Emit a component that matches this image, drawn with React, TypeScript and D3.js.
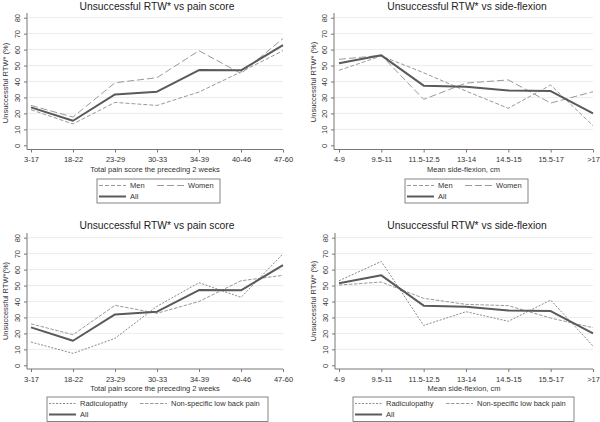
import React, { useRef, useEffect } from "react";
import * as d3 from "d3";

// categories
const painCats = ["3-17", "18-22", "23-29", "30-33", "34-39", "40-46", "47-60"];
const flexCats = ["4-9", "9.5-11", "11.5-12.5", "13-14", "14.5-15", "15.5-17", ">17"];
const yTicks = [0, 10, 20, 30, 40, 50, 60, 70, 80];

// pain score series
const painMen = [22.3, 13.4, 26.9, 25, 33.4, 46, 59.3];
const painWomen = [25, 17.7, 39.2, 42.4, 59.3, 45, 67];
const painAll = [23.8, 15.4, 31.9, 33.6, 47.2, 47, 62.8];
const painRadic = [14.6, 7.5, 16.9, 37, 51.8, 42.6, 69.9];
const painNonSpec = [26, 19.2, 37.6, 32.6, 40, 53, 56.4];

// side-flexion series
const flexMen = [47, 56, 45.5, 34, 23.2, 37.8, 12.3];
const flexWomen = [53.9, 56.4, 28.8, 39, 41, 26.5, 33.6];
const flexAll = [51.4, 56.4, 37.4, 36.7, 34.4, 34, 20];
const flexRadic = [53, 65.1, 25, 33.6, 27.6, 40.9, 12.1];
const flexNonSpec = [50.3, 52.2, 42, 38.2, 37.4, 29.6, 23.6];

const FONT = "'Liberation Sans', Arial, sans-serif";
const TEXT = "#333";
const AXIS = "#777";
const SMALL = 7.5;

type Series = { name: string; values: number[]; dash: string | null; color: string; width: number };

const Panel = ({ x0, y0, yTitle, yTitleAt, title, titleAt, xTitle, xTitleY, tickY, cats, series, legend }) => {
  const ref = useRef<SVGGElement>(null);

  useEffect(() => {
    const g = d3.select(ref.current);
    g.selectAll("*").remove();

    const x = d3.scalePoint().domain(cats).range([x0.first, x0.last]);
    const y = d3.scaleLinear().domain([0, 80]).range([y0.zero, y0.top]);

    // grid
    g.append("g")
      .selectAll("line")
      .data(yTicks.slice(1))
      .join("line")
      .attr("x1", x0.axis + 1)
      .attr("x2", x0.last)
      .attr("y1", (d) => y(d))
      .attr("y2", (d) => y(d))
      .attr("stroke", "#ececec")
      .attr("stroke-width", 1);

    // y axis
    const ya = g
      .append("g")
      .attr("transform", `translate(${x0.axis},0)`)
      .call(d3.axisLeft(y).tickValues(yTicks).tickSize(3).tickSizeOuter(0).tickPadding(0));
    ya.select(".domain").attr("d", `M0,${y0.axisTop}V${y0.axisBottom}`).attr("stroke", AXIS);
    ya.selectAll(".tick line").attr("stroke", AXIS);
    ya.selectAll(".tick text")
      .attr("x", null)
      .attr("dy", null)
      .attr("text-anchor", "middle")
      .attr("transform", "translate(-7,0) rotate(-90)")
      .attr("y", 0)
      .attr("font-family", FONT)
      .attr("font-size", SMALL)
      .attr("fill", TEXT);

    // x axis
    const xa = g
      .append("g")
      .attr("transform", `translate(0,${y0.axisBottom})`)
      .call(d3.axisBottom(x).tickSize(3).tickSizeOuter(0));
    xa.select(".domain").attr("d", `M${x0.axis},0H${x0.last}`).attr("stroke", AXIS);
    xa.selectAll(".tick line").attr("stroke", AXIS);
    xa.selectAll(".tick text")
      .attr("y", tickY - y0.axisBottom)
      .attr("dy", null)
      .attr("font-family", FONT)
      .attr("font-size", SMALL)
      .attr("fill", TEXT);

    // lines
    const line = d3
      .line<number>()
      .x((_, i) => x(cats[i]))
      .y((d) => y(d));
    series.forEach((s: Series) => {
      g.append("path")
        .datum(s.values)
        .attr("fill", "none")
        .attr("stroke", s.color)
        .attr("stroke-width", s.width)
        .attr("stroke-dasharray", s.dash)
        .attr("stroke-linejoin", "round")
        .attr("d", line);
    });

    // texts
    g.append("text")
      .attr("x", titleAt[0])
      .attr("y", titleAt[1])
      .attr("text-anchor", "middle")
      .attr("font-family", FONT)
      .attr("font-size", 10.3)
      .attr("fill", "#222")
      .text(title);
    g.append("text")
      .attr("transform", `translate(${yTitleAt[0]},${yTitleAt[1]}) rotate(-90)`)
      .attr("text-anchor", "middle")
      .attr("font-family", FONT)
      .attr("font-size", SMALL)
      .attr("fill", TEXT)
      .text(yTitle);
    g.append("text")
      .attr("x", (x0.axis + x0.last) / 2)
      .attr("y", xTitleY)
      .attr("text-anchor", "middle")
      .attr("font-family", FONT)
      .attr("font-size", SMALL)
      .attr("fill", TEXT)
      .text(xTitle);

    // legend
    const lg = g.append("g");
    lg.append("rect")
      .attr("x", legend.x)
      .attr("y", legend.y)
      .attr("width", legend.w)
      .attr("height", legend.h)
      .attr("fill", "white")
      .attr("stroke", "#666")
      .attr("stroke-width", 0.8);
    legend.items.forEach((it, i) => {
      const s: Series = series[i];
      const ly = legend.y + (it.row === 0 ? 6.5 : 17.5);
      lg.append("line")
        .attr("x1", it.lx)
        .attr("x2", it.lx + 27)
        .attr("y1", ly)
        .attr("y2", ly)
        .attr("stroke", s.color)
        .attr("stroke-width", s.width)
        .attr("stroke-dasharray", s.dash);
      lg.append("text")
        .attr("x", it.lx + 31)
        .attr("y", ly + 2.7)
        .attr("font-family", FONT)
        .attr("font-size", SMALL)
        .attr("fill", TEXT)
        .text(s.name);
    });
  }, []);

  return <g ref={ref} />;
};

const mk = (name: string, values: number[], kind: string): Series => {
  if (kind === "all") return { name, values, dash: null, color: "#5a5a5a", width: 2 };
  if (kind === "men") return { name, values, dash: "4,2", color: "#9a9a9a", width: 1 };
  if (kind === "women") return { name, values, dash: "7,3", color: "#9a9a9a", width: 1 };
  if (kind === "radic") return { name, values, dash: "2,1.5", color: "#8a8a8a", width: 1 };
  return { name, values, dash: "3.5,1.5", color: "#9a9a9a", width: 1 };
};

const App = () => {
  const top = { zero: 145.3, top: 17.7, axisTop: 13, axisBottom: 149.5 };
  const bot = { zero: 365.3, top: 237.7, axisTop: 233, axisBottom: 369 };
  const left = { axis: 27, first: 31, last: 283 };
  const right = { axis: 334, first: 339, last: 593 };
  const sexLegend = (lx: number) => ({
    x: lx,
    y: 179,
    w: 123,
    h: 24,
    items: [
      { row: 0, lx: lx + 2 },
      { row: 0, lx: lx + 60 },
      { row: 1, lx: lx + 2 },
    ],
  });
  const diagLegend = (lx: number) => ({
    x: lx,
    y: 397,
    w: 221,
    h: 24.5,
    items: [
      { row: 0, lx: lx + 2 },
      { row: 0, lx: lx + 93 },
      { row: 1, lx: lx + 2 },
    ],
  });

  return (
    <svg width={600} height={422} style={{ position: "absolute", left: 0, top: 0, background: "white" }}>
      <Panel
        x0={left}
        y0={top}
        cats={painCats}
        title="Unsuccessful RTW* vs pain score"
        titleAt={[157, 10]}
        yTitle="Unsuccessful RTW* (%)"
        yTitleAt={[8, 83]}
        xTitle="Total pain score the preceding 2 weeks"
        xTitleY={172}
        tickY={161.5}
        series={[mk("Men", painMen, "men"), mk("Women", painWomen, "women"), mk("All", painAll, "all")]}
        legend={sexLegend(97)}
      />
      <Panel
        x0={right}
        y0={top}
        cats={flexCats}
        title="Unsuccessful RTW* vs side-flexion"
        titleAt={[467, 10]}
        yTitle="Unsuccessful RTW* (%)"
        yTitleAt={[316, 82]}
        xTitle="Mean side-flexion, cm"
        xTitleY={172}
        tickY={161.5}
        series={[mk("Men", flexMen, "men"), mk("Women", flexWomen, "women"), mk("All", flexAll, "all")]}
        legend={sexLegend(405)}
      />
      <Panel
        x0={left}
        y0={bot}
        cats={painCats}
        title="Unsuccessful RTW* vs pain score"
        titleAt={[157, 229]}
        yTitle="Unsuccessful RTW*(%)"
        yTitleAt={[8, 301]}
        xTitle="Total pain score the preceding 2 weeks"
        xTitleY={391}
        tickY={381.7}
        series={[
          mk("Radiculopathy", painRadic, "radic"),
          mk("Non-specific low back pain", painNonSpec, "nonspec"),
          mk("All", painAll, "all"),
        ]}
        legend={diagLegend(47)}
      />
      <Panel
        x0={{ axis: 335, first: 339, last: 593 }}
        y0={bot}
        cats={flexCats}
        title="Unsuccessful RTW* vs side-flexion"
        titleAt={[467, 229]}
        yTitle="Unsuccessful RTW* (%)"
        yTitleAt={[316, 301]}
        xTitle="Mean side-flexion, cm"
        xTitleY={391}
        tickY={381.7}
        series={[
          mk("Radiculopathy", flexRadic, "radic"),
          mk("Non-specific low back pain", flexNonSpec, "nonspec"),
          mk("All", flexAll, "all"),
        ]}
        legend={diagLegend(353)}
      />
    </svg>
  );
};

export default App;
